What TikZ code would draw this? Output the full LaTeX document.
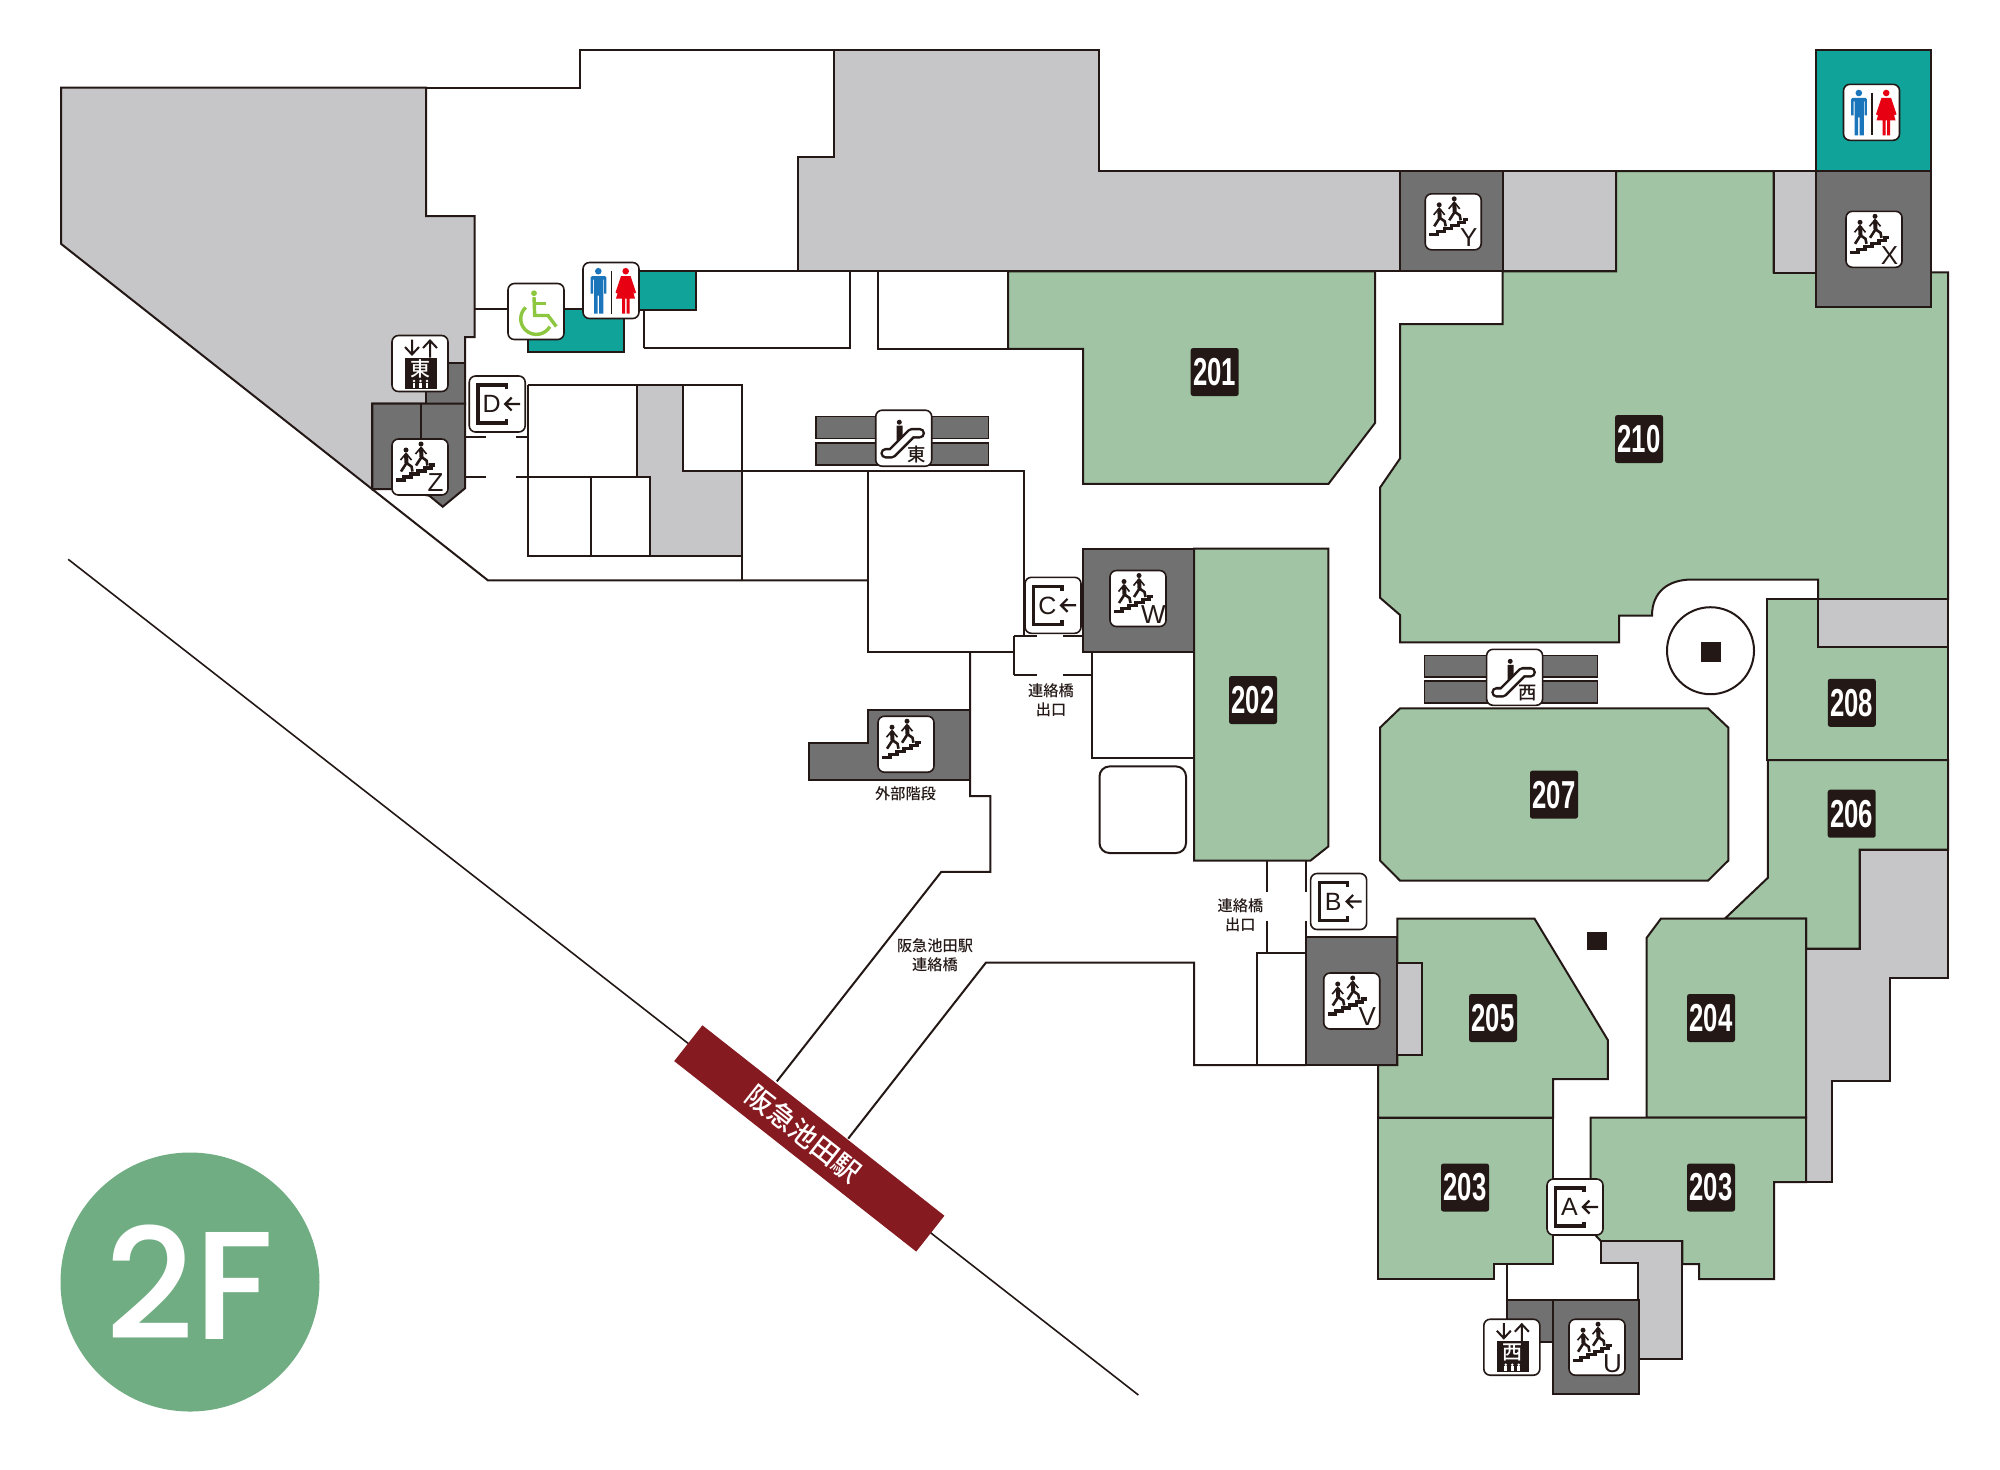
\documentclass[tikz,border=0pt]{standalone}
\usepackage{fontspec}
\setmainfont{Liberation Sans}
\newfontfamily\cjk{Noto Sans CJK JP Medium}
\newfontfamily\bigfont{Poppins Medium}
\definecolor{lk}{HTML}{231815}
\definecolor{roomgreen}{HTML}{A0C4A4}
\definecolor{palegray}{HTML}{C6C6C8}
\definecolor{stairgray}{HTML}{727171}
\definecolor{wcteal}{HTML}{0FA39A}
\definecolor{stationred}{HTML}{851A20}
\definecolor{floorgreen}{HTML}{71AD82}
\definecolor{manblue}{HTML}{1B75BB}
\definecolor{womanred}{HTML}{E60012}
\definecolor{limegreen}{HTML}{8DC63F}
\tikzset{
  wall/.style={draw=lk,line width=1pt,line join=miter},
  thinwall/.style={draw=lk,line width=.8pt},
  greenroom/.style={wall,fill=roomgreen},
  grayroom/.style={wall,fill=palegray},
  darkroom/.style={wall,fill=stairgray},
  tealroom/.style={wall,fill=wcteal},
  iconbox/.style={draw=lk,line width=.8pt,fill=white,rounded corners=3.2pt,minimum width=28pt,minimum height=28pt,inner sep=0pt},
  numlabel/.style={fill=lk,text=white,rounded corners=1.2pt,minimum width=24pt,minimum height=24pt,inner sep=0pt,font=\bfseries\fontsize{19.5pt}{19.5pt}\selectfont},
  captext/.style={text=lk,font=\cjk\fontsize{7.6pt}{9.6pt}\selectfont,align=center,inner sep=0pt},
  iconletter/.style={text=lk,inner sep=0pt,font=\fontsize{12.5pt}{12.5pt}\selectfont}
}
\newcommand{\numbox}[3]{\node[numlabel] (#1) at (#2) {\scalebox{.66}[1]{#3}};}
\newcommand{\walker}[2]{%
  \begin{scope}[shift={(#1,#2)}]
    \fill[lk] (14,11) circle[radius=2.5];
    \draw[lk,line width=2pt] (14,15) -- (14.5,24);
    \draw[lk,line width=1.3pt] (9,32.5) -- (14.5,24) -- (19.5,27.5) -- (20.5,32.5);
    \draw[lk,line width=.8pt] (8.5,21) -- (14,14.5) -- (19.5,21);
  \end{scope}}
\newcommand{\stairicon}[4]{%
  \node[iconbox] (#1) at (#2,#3) {};
  \begin{scope}[shift={({#2-28},{#3-28})}]
    \walker{0}{0}\walker{15}{-6}
    \draw[lk,line width=1.6pt] (4,41)--(12,41)--(12,38)--(19,38)--(19,35)--(26,35)--(26,32)--(33,32)--(33,29)--(39,29)--(39,26)--(43,26);
    \node[iconletter,font=\fontsize{13pt}{13pt}\selectfont] (#1let) at (43.5,44) {#4};
  \end{scope}}
\newcommand{\elevicon}[4]{%
  \node[iconbox] (#1) at (#2,#3) {};
  \begin{scope}[shift={({#2-28},{#3-28})}]
    \fill[lk] (12.7,22) rectangle (44.7,53);
    \draw[lk,line width=1pt] (20,4)--(20,19) (13,11.5)--(20,19)--(27,11.5);
    \draw[lk,line width=1pt] (38,22)--(38,5) (31,12.5)--(38,5)--(45,12.5);
    \node[inner sep=0pt,text=white,font=\cjk\fontsize{10pt}{10pt}\selectfont] (#1let) at (28.7,33) {#4};
    \foreach \xx in {22,28.5,35}{
      \fill[white] (\xx,45.5) circle[radius=1.4];
      \fill[white] ({\xx-1.4},47) rectangle ({\xx+1.4},52);}
  \end{scope}}
\newcommand{\dooricon}[4]{%
  \node[iconbox] (#1) at (#2,#3) {};
  \begin{scope}[shift={({#2-28},{#3-28})}]
    \draw[lk,line width=1.6pt] (37,13.3)--(37,9)--(8.7,9)--(8.7,47)--(37,47)--(37,42.7);
    \draw[lk,line width=1.1pt] (51,28)--(36,28) (42.5,21.5)--(36,28)--(42.5,34.5);
    \node[iconletter] (#1let) at (22.5,28.3) {#4};
  \end{scope}}
\newcommand{\wcicon}[3]{%
  \node[iconbox] (#1) at (#2,#3) {};
  \begin{scope}[shift={({#2-28},{#3-28})}]
    \fill[manblue] (15.3,8.7) circle[radius=3.3];
    \fill[manblue] (7.7,15)--(9,13.5)--(21.8,13.5)--(23.3,15)--(23.3,31)--(21,31)--(21,17)--(20.3,17)--(20.3,51)--(16,51)--(16,33)--(14.7,33)--(14.7,51)--(11,51)--(11,17)--(10,17)--(10,31)--(7.7,31)--cycle;
    \draw[lk,line width=.7pt] (28.3,8.3)--(28.3,51);
    \fill[womanred] (42.7,8.7) circle[radius=3.3];
    \fill[womanred] (38,13.5)--(47.5,13.5)--(53,30)--(51,31)--(47.5,20)--(52,36)--(46.5,36)--(46.5,51)--(43.5,51)--(43.5,36)--(42,36)--(42,51)--(39,51)--(39,36)--(33,36)--(38,20)--(34.5,31)--(32.5,30)--cycle;
  \end{scope}}
\newcommand{\escicon}[4]{%
  \node[iconbox] (#1) at (#2,#3) {};
  \begin{scope}[shift={({#2-28},{#3-28})}]
    \draw[lk,line width=5.4pt,line cap=round,line join=round] (10,43)--(16,43)--(36,23)--(44,23);
    \draw[white,line width=2.8pt,line cap=round,line join=round] (10,43)--(16,43)--(36,23)--(44,23);
    \fill[lk] (23.6,12) circle[radius=2.5];
    \fill[lk] (21,15.5)--(27,15.5)--(27,27)--(22,32)--(21,30)--cycle;
    \node[inner sep=0pt,text=lk,font=\fontsize{9.2pt}{9.2pt}\selectfont\cjk] (#1let) at (41,44) {#4};
  \end{scope}}
\begin{document}
\begin{tikzpicture}[x=.5pt,y=-.5pt]
\useasboundingbox (0,0) rectangle (2000,1469);
\fill[white] (0,0) rectangle (2000,1469);

% floor badge
\node[circle,fill=floorgreen,minimum size=129.5pt,inner sep=0pt,text=white,font=\bigfont\fontsize{77pt}{77pt}\selectfont] (floor) at (190,1282) {2F};

% track and station
\draw[thinwall] (68.2,559.3) -- (1138.4,1395);

% top outline, north rooms
\draw[wall] (426,87.7) -- (580,87.7) -- (580,49.7) -- (834,49.7);
\draw[wall] (426,216) -- (426,87.7);
\draw[grayroom] (61,87.7) -- (426,87.7) -- (426,216) -- (474.5,216) -- (474.5,337) -- (465,337) -- (465,403.6) -- (372,403.6) -- (372,489) -- (61,243.8) -- cycle;
\draw[wall] (372,489) -- (488,580.4) -- (868,580.4);
\draw[grayroom] (834,49.7) -- (1099,49.7) -- (1099,171) -- (1616,171) -- (1616,271.4) -- (798,271.4) -- (798,157) -- (834,157) -- cycle;
\draw[wall] (474.5,309.4) -- (510,309.4);
\draw[wall] (696,271.4) -- (798,271.4) (643.5,348.3) -- (849.5,348.3) -- (849.5,271.4) (643.5,348.3) -- (643.5,310);
\draw[wall] (878,271.4) -- (878,348.8) -- (1008,348.8);
\draw[tealroom] (528,309.4) rectangle (624,351.6);
\draw[tealroom] (639,271.4) rectangle (696,310.4);

% east dark block
\draw[darkroom] (425.7,363.3) rectangle (465,404);
\draw[darkroom] (372.3,403.6) -- (465,403.6) -- (465,488.3) -- (442.7,506.7) -- (429.3,495.7) -- (392,489) -- (372.3,489) -- cycle;
\draw[wall] (421,404) -- (421,440);
\draw[wall] (466,437.3) -- (486,437.3) (516,437.3) -- (527.7,437.3) (466,477) -- (486,477) (516,477) -- (528,477);

% central rooms
\draw[grayroom] (636.7,385) -- (682.7,385) -- (682.7,470.7) -- (742.3,470.7) -- (742.3,555.6) -- (650,555.6) -- (650,477) -- (636.7,477) -- cycle;
\draw[wall] (527.7,385) -- (742.3,385) -- (742.3,580.4);
\draw[wall] (527.7,385) -- (527.7,555.6) -- (650,555.6);
\draw[wall] (527.7,477) -- (650,477) -- (650,555.6);
\draw[wall] (590.7,477) -- (590.7,555.6);
\draw[wall] (682.7,470.7) -- (1024,470.7) -- (1024,636);
\draw[wall] (868,470.7) -- (868,651.7) -- (1014,651.7);
\draw[wall] (1014,636) -- (1014,675);
\draw[wall] (1014,636) -- (1037,636) (1063,636) -- (1091.7,636) (1014,675) -- (1037,675) (1063,675) -- (1091.7,675);
\draw[wall] (1091.7,636) -- (1091.7,758.4) -- (1194,758.4);
\draw[wall] (1091.7,651.7) -- (1194,651.7);
\draw[wall,rounded corners=5pt] (1099.5,766.4) rectangle (1186,853);
\draw[wall] (970,651.7) -- (970,796) -- (990.4,796) -- (990.4,871.8) -- (941.3,871.8) -- (776.8,1081.4);
\draw[wall] (1306,1065) -- (1194,1065) -- (1194,962.5) -- (986,962.5) -- (848.2,1138.6);
\draw[darkroom] (868,710) -- (970,710) -- (970,779.5) -- (808.7,779.5) -- (808.7,743) -- (868,743) -- cycle;
\node[fill=stationred,rotate=-38.2,minimum width=154pt,minimum height=22.8pt,inner sep=0pt,text=white,font=\cjk\fontsize{13.7pt}{13.7pt}\selectfont] (station) at (809.3,1138.4) {\hspace*{-3.5pt}阪急池田駅\hspace*{3.5pt}};

% escalators
\draw[darkroom,line width=.6pt] (816,416.8) rectangle (988.5,438.8);
\draw[darkroom,line width=.6pt] (816,443) rectangle (988.5,465);
\draw[darkroom,line width=.6pt] (1424.7,655.4) rectangle (1597.6,677);
\draw[darkroom,line width=.6pt] (1424.7,681) rectangle (1597.6,703);

% green rooms
\draw[greenroom] (1008,271.4) -- (1375,271.4) -- (1375,423) -- (1328.5,483.8) -- (1083,483.8) -- (1083,348.8) -- (1008,348.8) -- cycle;
\draw[greenroom] (1502.5,271.4) -- (1502.5,324) -- (1400,324) -- (1400,458.5) -- (1380,487.6) -- (1380,597.7) -- (1400,615) -- (1400,642.3) -- (1619,642.3) -- (1619,615.6) -- (1652,615.6) .. controls (1652,592) and (1668,579.5) .. (1692,579.5) -- (1818,579.5) -- (1818,599) -- (1948,599) -- (1948,272.4) -- (1773.6,272.4) -- (1773.6,171) -- (1616,171) -- (1616,271.4) -- cycle;
\draw[grayroom] (1773.6,171) rectangle (1816,273);
\draw[tealroom] (1816,49.7) rectangle (1931,171);
\draw[darkroom] (1816,171) rectangle (1931,306.6);
\draw[darkroom] (1400,171) rectangle (1502.5,271.4);
\draw[darkroom] (1083,548.5) rectangle (1194,651.7);
\draw[greenroom] (1194,548.5) -- (1328.4,548.5) -- (1328.4,846.4) -- (1310.6,860.5) -- (1194,860.5) -- cycle;
\draw[greenroom] (1400,708.4) -- (1708,708.4) -- (1728.3,727.6) -- (1728.3,860.5) -- (1708,880.6) -- (1400,880.6) -- (1380,860.5) -- (1380,727.6) -- cycle;
\draw[greenroom] (1767,599) -- (1948,599) -- (1948,760) -- (1767,760) -- cycle;
\draw[grayroom] (1818,599) rectangle (1948,647);
\draw[greenroom] (1767.8,760) -- (1948,760) -- (1948,849.7) -- (1859.7,849.7) -- (1859.7,948.5) -- (1806,948.5) -- (1806,918.5) -- (1725,918.5) -- (1767.8,877.8) -- cycle;
\draw[grayroom] (1859.7,849.7) -- (1948,849.7) -- (1948,978.4) -- (1890,978.4) -- (1890,1080.5) -- (1832,1080.5) -- (1832,1182) -- (1806,1182) -- (1806,948.5) -- (1859.7,948.5) -- cycle;
\draw[greenroom] (1661,918.5) -- (1806,918.5) -- (1806,1117.5) -- (1646.7,1117.5) -- (1646.7,937.7) -- cycle;
\draw[greenroom] (1590.6,1117.5) -- (1806,1117.5) -- (1806,1182) -- (1774,1182) -- (1774,1279) -- (1699,1279) -- (1699,1264) -- (1682.4,1264) -- (1682.4,1241) -- (1600.8,1241) -- (1590.6,1230) -- cycle;
\draw[greenroom] (1397.3,918.5) -- (1534.4,918.5) -- (1607.8,1040) -- (1607.8,1079) -- (1553,1079) -- (1553,1117.5) -- (1378,1117.5) -- (1378,1065) -- (1397.3,1065) -- cycle;
\draw[greenroom] (1378,1117.5) -- (1553,1117.5) -- (1553,1264) -- (1494,1264) -- (1494,1279) -- (1378,1279) -- cycle;
\draw[grayroom] (1397.3,963) rectangle (1421.5,1054.8);
\draw[darkroom] (1306,937) rectangle (1397.3,1065);
\draw[wall] (1257,1065) -- (1257,952.7) -- (1306,952.7);
\draw[wall] (1266.6,860.5) -- (1266.6,892) (1266.6,921.3) -- (1266.6,952.7) (1306,860.5) -- (1306,892) (1306,921) -- (1306,937);

% south core
\draw[grayroom] (1600.7,1241) -- (1682.3,1241) -- (1682.3,1359) -- (1638.3,1359) -- (1638.3,1263.3) -- (1600.7,1263.3) -- cycle;
\draw[wall] (1507.3,1264) -- (1507.3,1300) (1638.3,1263.3) -- (1638.3,1300);
\draw[darkroom] (1507.3,1300) -- (1552.7,1300) -- (1552.7,1342.3) -- (1507.3,1342.3) -- cycle;
\draw[darkroom] (1552.7,1300) rectangle (1639,1394);

% circular void and pillars
\draw[wall,fill=white] (1710.5,650.7) circle[radius=43.5];
\fill[lk] (1701,642) rectangle (1721,662);
\fill[lk] (1587.4,931.6) rectangle (1606.5,950.4);

% number labels
\numbox{r201}{1214.7,372}{201}
\numbox{r210}{1639,439}{210}
\numbox{r202}{1253,700}{202}
\numbox{r208}{1851.8,702.8}{208}
\numbox{r207}{1554,794.6}{207}
\numbox{r206}{1851.7,813.7}{206}
\numbox{r205}{1493,1018}{205}
\numbox{r204}{1711,1018}{204}
\numbox{r203a}{1465,1187.5}{203}
\numbox{r203b}{1711,1187.5}{203}

% captions
\node[captext] (capC) at (1051,700) {連絡橋\\出口};
\node[captext] (capB) at (1240.4,915) {連絡橋\\出口};
\node[captext] (capOut) at (905.6,793.5) {外部階段};
\node[captext] (capBr) at (935,955.5) {阪急池田駅\\連絡橋};

% icons
\elevicon{elevE}{420}{363.5}{東}
\stairicon{stairZ}{420}{467}{Z}
\dooricon{doorD}{497.2}{404}{D}
\node[iconbox] (wheel) at (536,311.5) {};
\begin{scope}[shift={(508,283.5)}]
  \fill[limegreen] (26,9.7) circle[radius=2.9];
  \draw[limegreen,line width=1.7pt] (26,13.7) -- (26.7,32) -- (40,32) -- (48.3,43);
  \draw[limegreen,line width=1.4pt] (26.5,20.3) -- (38,20.3);
  \draw[limegreen,line width=1.7pt] (17.7,23.9) arc[start angle=227,end angle=30,radius=15.6];
\end{scope}
\wcicon{wcW}{611}{290.5}
\wcicon{wcE}{1871.5}{112.3}
\stairicon{stairX}{1874}{239.3}{X}
\stairicon{stairY}{1453.2}{221.8}{Y}
\escicon{escE}{903.7}{438.2}{東}
\escicon{escW}{1514.6}{677.3}{西}
\dooricon{doorC}{1053}{605.3}{C}
\stairicon{stairW}{1138}{598.5}{W}
\stairicon{stairOut}{906}{744.2}{}
\dooricon{doorB}{1338.6}{901.5}{B}
\stairicon{stairV}{1351.7}{1001}{V}
\dooricon{doorA}{1575}{1207}{A}
\elevicon{elevW}{1511.8}{1347.2}{西}
\stairicon{stairU}{1597}{1347.2}{U}
\end{tikzpicture}
\end{document}
